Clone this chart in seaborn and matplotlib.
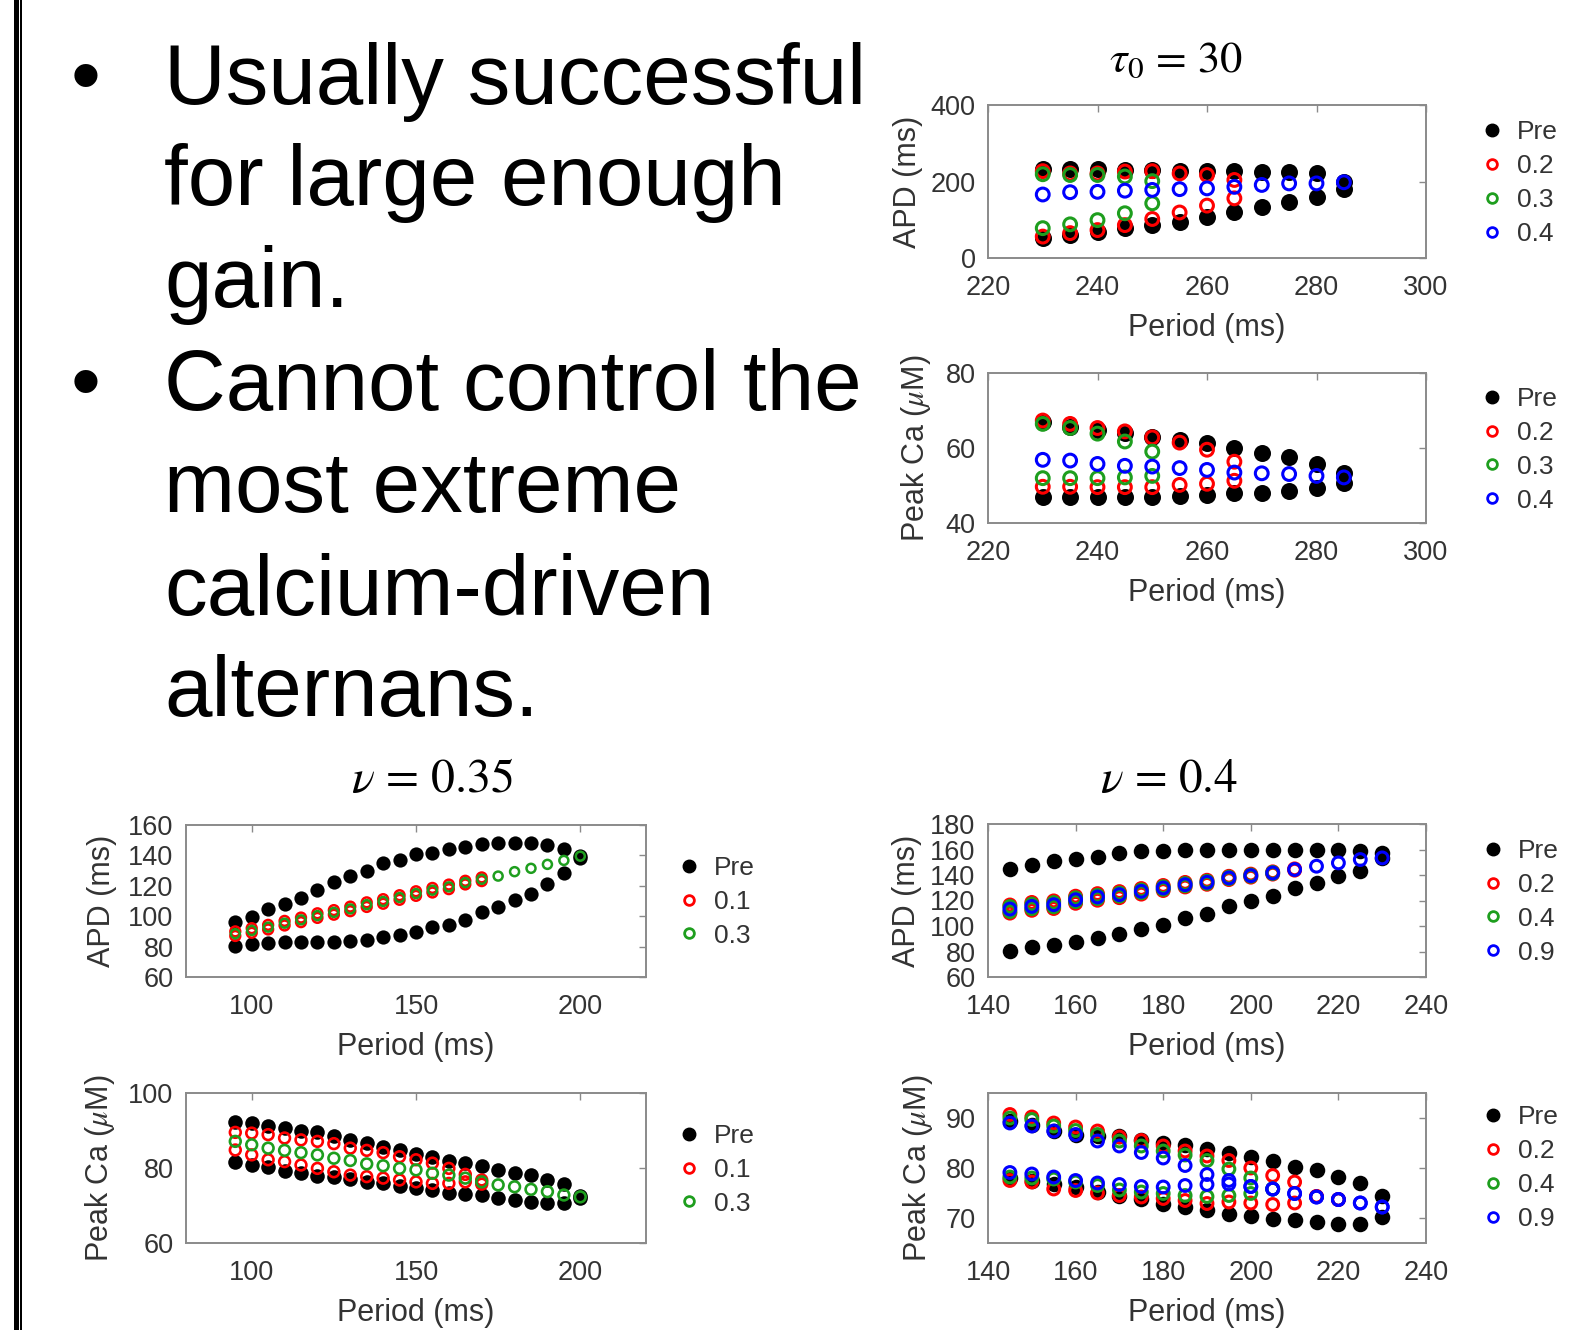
import numpy as np
import pandas as pd
import matplotlib
matplotlib.use("Agg")
import matplotlib.pyplot as plt
import seaborn as sns
from matplotlib.lines import Line2D
from matplotlib.patches import Rectangle

sns.set_theme(style="white")
plt.rcParams["font.family"] = ["Liberation Sans", "DejaVu Sans"]
plt.rcParams["mathtext.fontset"] = "stix"

# ---------------- data ----------------
# tau0 = 30
tau_period = [230, 235, 240, 245, 250, 255, 260, 265, 270, 275, 280, 285]
tau_apd_pre_hi = [232, 232, 232, 230, 229, 228, 228, 227, 226, 224, 222, 200]
tau_apd_pre_lo = [51, 60, 69, 78, 85, 95, 108, 121, 134, 147, 160, 180]
tau_apd_02_hi = [227, 221, 221, 226, 227, 221, 217, 204]
tau_apd_02_lo = [56, 65, 73, 86, 102, 119, 137, 156]
tau_apd_03_hi = [219, 217, 217, 213, 201]
tau_apd_03_lo = [78, 88, 99, 117, 143]
tau_apd_04 = [166, 172, 173, 176, 178, 180, 182, 186, 191, 195, 195, 198]

tau_ca_pre_hi = [66.8, 65.7, 64.8, 64.1, 62.8, 62.1, 61.2, 59.9, 58.6, 57.5, 55.7, 53.2]
tau_ca_pre_lo = [47.0, 47.0, 47.0, 47.0, 47.0, 47.1, 47.4, 47.9, 48.0, 48.6, 49.2, 50.5]
tau_ca_02_hi = [67.3, 66.4, 65.3, 64.4, 62.8, 61.4, 59.5, 56.3]
tau_ca_02_lo = [49.6, 49.6, 49.5, 49.5, 49.5, 50.1, 50.4, 51.2]
tau_ca_03_hi = [66.4, 65.3, 63.8, 61.7, 59.0]
tau_ca_03_lo = [51.9, 51.9, 51.9, 52.1, 52.5]
tau_ca_04 = [56.8, 56.6, 55.7, 55.2, 55.0, 54.6, 54.1, 53.4, 53.2, 53.0, 52.5, 52.1]

# nu = 0.35
nu35_period = [95, 100, 105, 110, 115, 120, 125, 130, 135, 140, 145, 150,
               155, 160, 165, 170, 175, 180, 185, 190, 195, 200]
nu35_apd_pre_hi = [96.0, 99.7, 104.8, 108.0, 111.9, 117.1, 122.7, 126.4, 129.7, 135.1, 136.7,
                   141.0, 141.6, 144.5, 145.3, 147.5, 148.1, 148.1, 148.1, 147.1, 144.5, 139.5]
nu35_apd_pre_lo = [80.2, 81.5, 82.4, 83.0, 83.0, 83.0, 83.0, 83.7, 84.6, 86.3, 87.4,
                   89.5, 92.8, 94.5, 97.6, 102.5, 105.8, 110.6, 114.9, 121.0, 128.6, 138.4]
nu35_apd_01_hi = [90.0, 92.1, 94.3, 96.9, 99.1, 101.9, 104.0, 106.3, 109.1, 111.2, 113.8,
                  116.4, 118.6, 120.8, 123.3, 125.5]
nu35_apd_01_lo = [87.0, 89.1, 91.3, 93.9, 96.1, 98.9, 101.0, 103.3, 106.1, 108.2, 110.8,
                  113.4, 115.6, 117.8, 120.9, 123.1]
nu35_apd_03 = [88.5, 90.6, 92.8, 95.4, 97.6, 100.4, 102.5, 104.8, 107.6, 109.7, 112.3,
               114.9, 117.1, 119.3, 122.1, 124.3, 126.4, 129.3, 131.5, 134.1, 136.7, 139.5]

nu35_ca_pre_hi = [92.2, 92.0, 91.3, 90.7, 90.0, 89.5, 88.6, 87.5, 86.6, 85.7, 84.7,
                  83.8, 82.9, 82.0, 81.3, 80.6, 79.5, 78.8, 78.1, 76.8, 75.7, 72.6]
nu35_ca_pre_lo = [81.7, 80.8, 80.2, 79.3, 78.6, 77.9, 77.5, 77.0, 76.3, 75.9, 75.2,
                  74.8, 74.1, 73.4, 73.2, 72.8, 71.9, 71.4, 71.0, 70.7, 70.6, 72.0]
nu35_ca_01_hi = [89.5, 89.3, 88.9, 88.0, 87.5, 87.1, 86.5, 85.3, 84.7, 84.1, 83.0,
                 82.2, 81.3, 79.9, 78.3, 76.8]
nu35_ca_01_lo = [84.8, 83.5, 82.2, 81.7, 80.8, 79.9, 79.0, 78.1, 77.7, 77.3, 76.8,
                 76.3, 75.9, 75.9, 76.3, 75.7]
nu35_ca_03 = [87.1, 86.2, 85.3, 84.7, 84.1, 83.5, 82.6, 82.0, 81.1, 80.6, 79.9,
              79.5, 78.6, 78.1, 77.3, 76.3, 75.5, 75.0, 74.3, 73.7, 72.8, 72.3]

# nu = 0.4
nu4_period = [145, 150, 155, 160, 165, 170, 175, 180, 185, 190, 195, 200,
              205, 210, 215, 220, 225, 230]
nu4_apd_pre_hi = [144.8, 148.2, 150.8, 152.7, 154.2, 156.9, 158.7, 158.7, 159.5, 159.5, 159.5,
                  159.5, 159.5, 159.5, 159.5, 159.5, 158.7, 157.5]
nu4_apd_pre_lo = [80.7, 83.4, 85.2, 87.8, 90.4, 93.9, 97.5, 100.9, 106.2, 109.6, 115.4,
                  119.3, 123.8, 129.8, 133.8, 139.5, 142.9, 153.5]
nu4_apd_02_hi = [116.5, 118.5, 119.7, 123.4, 125.4, 127.0, 129.4, 131.8, 134.2, 135.9,
                 139.0, 140.7, 142.5, 144.8]
nu4_apd_02_lo = [110.1, 112.3, 113.7, 117.8, 120.2, 122.2, 125.0, 127.8, 130.6, 132.7,
                 136.4, 138.3, 140.7, 143.8]
nu4_apd_04_hi = [115.3, 117.2, 118.4, 122.1, 124.1, 125.8, 128.3, 130.8, 133.3, 135.1,
                 138.3, 140.0, 142.0]
nu4_apd_04_lo = [111.3, 113.6, 115.0, 119.1, 121.5, 123.4, 126.1, 128.8, 131.5, 133.5,
                 137.1, 139.0, 141.2]
nu4_apd_09 = [113.3, 115.4, 116.7, 120.6, 122.8, 124.6, 127.2, 129.8, 132.4, 134.3, 137.7,
              139.5, 141.6, 144.3, 146.9, 149.5, 152.1, 153.4]

nu4_ca_pre_hi = [89.4, 88.7, 87.5, 86.7, 86.4, 86.4, 85.7, 85.1, 84.6, 83.8, 83.1, 82.2,
                 81.5, 80.3, 79.6, 78.2, 77.0, 74.5]
nu4_ca_pre_lo = [78.0, 77.5, 76.8, 76.2, 75.2, 74.5, 73.9, 72.9, 72.2, 71.6, 70.9, 70.4,
                 69.9, 69.6, 69.2, 68.9, 68.9, 70.2]
nu4_ca_02_hi = [90.7, 90.2, 89.0, 88.2, 87.4, 86.2, 85.5, 84.4, 83.4, 82.4, 81.5, 80.0,
                78.5, 77.2, 74.3, 73.7]
nu4_ca_02_lo = [77.5, 77.2, 75.8, 75.5, 75.0, 74.5, 74.2, 73.9, 73.5, 72.9, 73.2, 73.0,
                72.7, 73.0, 74.3, 73.7]
nu4_ca_04_hi = [90.0, 89.7, 88.4, 87.5, 86.7, 85.4, 84.4, 83.4, 82.6, 81.5, 79.8, 78.0, 75.8]
nu4_ca_04_lo = [78.2, 78.0, 77.8, 77.2, 76.5, 75.6, 75.2, 74.9, 74.5, 74.3, 74.5, 74.9, 75.8]
nu4_ca_09_hi = [89.0, 88.4, 87.4, 86.7, 85.4, 84.4, 83.1, 82.0, 80.5, 78.7, 77.5, 76.3,
                75.8, 74.9, 74.2, 73.7, 73.0, 72.2]
nu4_ca_09_lo = [79.1, 78.8, 78.2, 77.5, 77.0, 76.7, 76.3, 76.2, 76.5, 76.7, 76.8, 76.3,
                75.8, 74.9, 74.2, 73.7, 73.0, 72.2]

bullet1 = ["Usually successful", "for large enough", "gain."]
bullet2 = ["Cannot control the", "most extreme", "calcium-driven", "alternans."]

RED, GREEN, BLUE = "#FF0000", "#1E9E1E", "#0000FF"
TXT = "#333333"
FRAME = "#8a8a8a"

# ---------------- figure ----------------
W, H = 1580, 1330
fig = plt.figure(figsize=(W / 100, H / 100), dpi=100, facecolor="white")


def fx(x):
    return x / W


def fy(y):
    return 1 - y / H


def add_ax(l, t, r, b):
    return fig.add_axes([fx(l), fy(b), (r - l) / W, (b - t) / H])


def pre(ax, x, y, s):
    sns.scatterplot(x=x, y=y, ax=ax, marker="o", s=s, color="black",
                    edgecolor="black", linewidth=0, legend=False, zorder=2)


def ring(ax, x, y, c, s, lw=2.2):
    sns.scatterplot(x=x, y=y, ax=ax, marker="o", s=s, color=c, facecolor="none",
                    edgecolor=c, linewidth=lw, legend=False, zorder=3)


def style(ax, xlim, xticks, ylim, yticks, ylabel, ylab_right_off):
    ax.set_facecolor("white")
    ax.grid(False)
    ax.set_xlim(*xlim)
    ax.set_ylim(*ylim)
    ax.set_xticks(xticks)
    ax.set_yticks(yticks)
    ax.tick_params(axis="both", direction="in", top=True, right=True, length=5,
                   width=1, color=FRAME, labelsize=19.5, labelcolor=TXT)
    ax.tick_params(axis="x", pad=12.5)
    ax.tick_params(axis="y", pad=9)
    for sp in ax.spines.values():
        sp.set_visible(True)
        sp.set_color(FRAME)
        sp.set_linewidth(1.4)
    ax.set_xlabel("Period (ms)", fontsize=22, color=TXT)
    ax.set_ylabel(ylabel, fontsize=22, color=TXT)
    bb = ax.get_position()
    l_px = bb.x0 * W
    b_px = (1 - bb.y0) * H
    t_px = (1 - bb.y1) * H
    ax.xaxis.set_label_coords(fx((bb.x0 + bb.x1) / 2 * W), fy(b_px + 55),
                              transform=fig.transFigure)
    ax.yaxis.set_label_coords(fx(l_px - ylab_right_off), fy((t_px + b_px) / 2),
                              transform=fig.transFigure)


def legend(ax, labels, colors, mx, y0, pitch=34.2):
    fs = 19
    fpx = fs * 100 / 72
    handles = []
    for lab, c in zip(labels, colors):
        if c == "black":
            handles.append(Line2D([], [], marker="o", linestyle="none", markersize=9,
                                  markerfacecolor="black", markeredgecolor="black"))
        else:
            handles.append(Line2D([], [], marker="o", linestyle="none", markersize=7,
                                  markerfacecolor="none", markeredgecolor=c,
                                  markeredgewidth=2.0))
    rowh = fpx * 0.92
    leg = ax.legend(handles, labels, loc="upper left",
                    bbox_to_anchor=(fx(mx - fpx * 0.5), fy(y0 - rowh / 2)),
                    bbox_transform=fig.transFigure, frameon=False, fontsize=fs,
                    handlelength=1.0, handletextpad=0.45, borderpad=0,
                    borderaxespad=0, labelspacing=(pitch - rowh) / fpx)
    for t in leg.get_texts():
        t.set_color(TXT)


# ---- tau0 = 30, APD ----
ax1 = add_ax(988, 105, 1426, 258)
pre(ax1, tau_period, tau_apd_pre_hi, 150)
pre(ax1, tau_period, tau_apd_pre_lo, 150)
ring(ax1, tau_period[:len(tau_apd_02_hi)], tau_apd_02_hi, RED, 85)
ring(ax1, tau_period[:len(tau_apd_02_lo)], tau_apd_02_lo, RED, 85)
ring(ax1, tau_period[:len(tau_apd_03_hi)], tau_apd_03_hi, GREEN, 85)
ring(ax1, tau_period[:len(tau_apd_03_lo)], tau_apd_03_lo, GREEN, 85)
ring(ax1, tau_period, tau_apd_04, BLUE, 85)
style(ax1, (220, 300), [220, 240, 260, 280, 300], (0, 400), [0, 200, 400], "APD (ms)", 65)
legend(ax1, ["Pre", "0.2", "0.3", "0.4"], ["black", RED, GREEN, BLUE], 1492, 132.5)

# ---- tau0 = 30, Ca ----
ax2 = add_ax(988, 373, 1426, 522.7)
pre(ax2, tau_period, tau_ca_pre_hi, 150)
pre(ax2, tau_period, tau_ca_pre_lo, 150)
ring(ax2, tau_period[:len(tau_ca_02_hi)], tau_ca_02_hi, RED, 85)
ring(ax2, tau_period[:len(tau_ca_02_lo)], tau_ca_02_lo, RED, 85)
ring(ax2, tau_period[:len(tau_ca_03_hi)], tau_ca_03_hi, GREEN, 85)
ring(ax2, tau_period[:len(tau_ca_03_lo)], tau_ca_03_lo, GREEN, 85)
ring(ax2, tau_period, tau_ca_04, BLUE, 85)
style(ax2, (220, 300), [220, 240, 260, 280, 300], (40, 80), [40, 60, 80],
      r"Peak Ca ($\mu$M)", 55)
legend(ax2, ["Pre", "0.2", "0.3", "0.4"], ["black", RED, GREEN, BLUE], 1492, 399)

# ---- nu = 0.35, APD ----
ax3 = add_ax(186, 825, 646, 977)
pre(ax3, nu35_period, nu35_apd_pre_hi, 105)
pre(ax3, nu35_period, nu35_apd_pre_lo, 105)
ring(ax3, nu35_period[:len(nu35_apd_01_hi)], nu35_apd_01_hi, RED, 50, 1.8)
ring(ax3, nu35_period[:len(nu35_apd_01_lo)], nu35_apd_01_lo, RED, 50, 1.8)
ring(ax3, nu35_period, nu35_apd_03, GREEN, 42, 1.8)
style(ax3, (80, 220), [100, 150, 200], (60, 160), [60, 80, 100, 120, 140, 160],
      "APD (ms)", 69)
legend(ax3, ["Pre", "0.1", "0.3"], ["black", RED, GREEN], 689, 868)

# ---- nu = 0.35, Ca ----
ax4 = add_ax(186, 1093, 646, 1243)
pre(ax4, nu35_period, nu35_ca_pre_hi, 110)
pre(ax4, nu35_period, nu35_ca_pre_lo, 110)
ring(ax4, nu35_period[:len(nu35_ca_01_hi)], nu35_ca_01_hi, RED, 60, 1.9)
ring(ax4, nu35_period[:len(nu35_ca_01_lo)], nu35_ca_01_lo, RED, 60, 1.9)
ring(ax4, nu35_period, nu35_ca_03, GREEN, 60, 1.9)
style(ax4, (80, 220), [100, 150, 200], (60, 100), [60, 80, 100],
      r"Peak Ca ($\mu$M)", 69)
legend(ax4, ["Pre", "0.1", "0.3"], ["black", RED, GREEN], 689, 1136)

# ---- nu = 0.4, APD ----
ax5 = add_ax(988, 824, 1426, 977)
pre(ax5, nu4_period, nu4_apd_pre_hi, 125)
pre(ax5, nu4_period, nu4_apd_pre_lo, 125)
ring(ax5, nu4_period[:len(nu4_apd_02_hi)], nu4_apd_02_hi, RED, 72)
ring(ax5, nu4_period[:len(nu4_apd_02_lo)], nu4_apd_02_lo, RED, 72)
ring(ax5, nu4_period[:len(nu4_apd_04_hi)], nu4_apd_04_hi, GREEN, 72)
ring(ax5, nu4_period[:len(nu4_apd_04_lo)], nu4_apd_04_lo, GREEN, 72)
ring(ax5, nu4_period, nu4_apd_09, BLUE, 72)
style(ax5, (140, 240), [140, 160, 180, 200, 220, 240], (60, 180),
      [60, 80, 100, 120, 140, 160, 180], "APD (ms)", 66)
legend(ax5, ["Pre", "0.2", "0.4", "0.9"], ["black", RED, GREEN, BLUE], 1493, 851)

# ---- nu = 0.4, Ca ----
ax6 = add_ax(988, 1093, 1426, 1243)
pre(ax6, nu4_period, nu4_ca_pre_hi, 125)
pre(ax6, nu4_period, nu4_ca_pre_lo, 125)
ring(ax6, nu4_period[:len(nu4_ca_02_hi)], nu4_ca_02_hi, RED, 72)
ring(ax6, nu4_period[:len(nu4_ca_02_lo)], nu4_ca_02_lo, RED, 72)
ring(ax6, nu4_period[:len(nu4_ca_04_hi)], nu4_ca_04_hi, GREEN, 72)
ring(ax6, nu4_period[:len(nu4_ca_04_lo)], nu4_ca_04_lo, GREEN, 72)
ring(ax6, nu4_period, nu4_ca_09_hi, BLUE, 72)
ring(ax6, nu4_period, nu4_ca_09_lo, BLUE, 72)
style(ax6, (140, 240), [140, 160, 180, 200, 220, 240], (65, 95), [70, 80, 90],
      r"Peak Ca ($\mu$M)", 53)
legend(ax6, ["Pre", "0.2", "0.4", "0.9"], ["black", RED, GREEN, BLUE], 1493, 1117.5)

# ---- titles ----
fig.text(fx(1176), fy(72), r"$\tau_0$ = 30", fontsize=32, ha="center", va="baseline",
         color="black", family="STIXGeneral")
fig.text(fx(432), fy(792), r"$\nu$ = 0.35", fontsize=34.5, ha="center", va="baseline",
         color="black", family="STIXGeneral")
fig.text(fx(1169), fy(792), r"$\nu$ = 0.4", fontsize=34, ha="center", va="baseline",
         color="black", family="STIXGeneral")

# ---- bullet text ----
base1 = [104, 205, 307]
base2 = [410, 512, 615, 716]
for lines, bases in ((bullet1, base1), (bullet2, base2)):
    fig.text(fx(86), fy(bases[0]), "\u2022", fontsize=61.5, ha="center", va="baseline",
             color="black")
    for s, b in zip(lines, bases):
        fig.text(fx(164), fy(b), s, fontsize=61.5, ha="left", va="baseline", color="black")

# ---- slide border ----
fig.add_artist(Rectangle((fx(14), 0), 4.7 / W, 1, transform=fig.transFigure,
                         color="black", lw=0))
fig.add_artist(Rectangle((fx(20.3), 0), 1.2 / W, 1, transform=fig.transFigure,
                         color="black", lw=0))

fig.savefig("out.png", dpi=100, facecolor="white")
